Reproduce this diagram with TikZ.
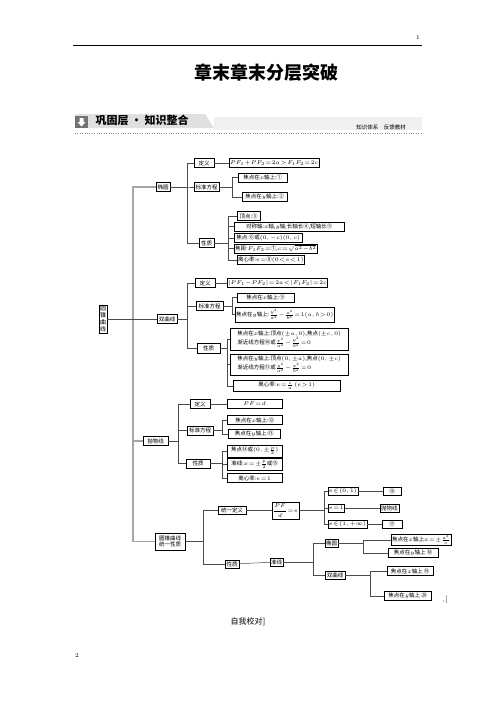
\RequirePackage{fix-cm}
\documentclass[tikz,border=0pt]{standalone}
\usepackage{amsmath}
\usepackage{fontspec}
\newfontfamily\cjk{Noto Sans CJK SC}
\DeclareMathSizes{5.5}{5.5}{4.5}{3.5}
\usetikzlibrary{calc}

\begin{document}
\begin{tikzpicture}[x=1pt,y=-1pt,
  box/.style={draw,anchor=west,inner sep=1pt,minimum height=9pt,align=center,
    font={\cjk\fontsize{5.5}{6.5}\selectfont\medmuskip=1mu\thickmuskip=1.5mu}},
  lbox/.style={box,align=left},
  bar/.style={line width=0.5pt,color=black!70},
  spine/.style={line width=1.4pt,color=black!35}]

\useasboundingbox (0,0) rectangle (496,702);

\node[font=\fontsize{6}{7}\selectfont] (pageone) at (418,38) {1};
\draw[line width=0.8pt] (73,45) -- (422,45);
\node[font=\cjk\bfseries\fontsize{18}{19}\selectfont] (title) at (266,73) {章末章末分层突破};

\fill[black!12] (75,114) -- (205,114) -- (214,128) -- (75,128) -- cycle;
\fill[black!6] (214,117) rectangle (422,130);
\fill[black!55] (75,116) rectangle (88,128);
\fill[white] (79.5,118) rectangle (83.5,122) (77.5,122) -- (85.5,122) -- (81.5,126.5) -- cycle;
\draw[black!45,dotted] (75,133) -- (422,133);
\node[font=\cjk\bfseries\fontsize{11}{12}\selectfont,anchor=west] (banner) at (92,120) {巩固层 · 知识整合};
\node[font=\cjk\fontsize{5.5}{6.5}\selectfont] (feedback) at (381,127) {知识体系\quad 反馈教材};

\node[box,minimum width=8pt,inner sep=0.8pt,font=\cjk\fontsize{6}{7.2}\selectfont] (root) at (99,319) {圆\\锥\\曲\\线};

\node[box,minimum width=14pt] (tuoyuan) at (156,187) {椭圆};
\node[box,minimum width=20pt] (e_def) at (194,163) {定义};
\node[box,minimum width=87pt] (e_defbox) at (229,163) {$PF_1+PF_2=2a>F_1F_2=2c$};
\node[box,minimum width=25pt] (e_std) at (194,187) {标准方程};
\node[lbox,minimum width=49pt] (e_x) at (238,177.5) {焦点在$x$轴上:①};
\node[lbox,minimum width=45pt] (e_y) at (242,197) {焦点在$y$轴上:②};
\node[box,minimum width=15pt] (e_prop) at (199,243) {性质};
\node[lbox,minimum width=23pt] (e_p1) at (237,216) {顶点:③};
\node[lbox,minimum width=110pt] (e_p2) at (234,226.5) {对称轴:$x$轴,$y$轴;长轴长④,短轴长⑤};
\node[lbox,minimum width=68pt] (e_p3) at (234,238) {焦点:⑥或$(0,-c)(0,c)$};
\node[lbox,minimum width=67pt] (e_p4) at (234,248.5) {焦距:$F_1F_2=$⑦,$c=\sqrt{a^2-b^2}$};
\node[lbox,minimum width=64pt] (e_p5) at (237,260) {离心率:$e=$⑧$(0<e<1)$};

\node[box,minimum width=20pt] (shuangqu) at (157,319) {双曲线};
\node[box,minimum width=20pt] (h_def) at (195,283) {定义};
\node[box,minimum width=89pt] (h_defbox) at (227,283) {$|PF_1-PF_2|=2a<|F_1F_2|=2c$};
\node[box,minimum width=27pt] (h_std) at (196,306) {标准方程};
\node[lbox,minimum width=57pt] (h_x) at (237,297.5) {焦点在$x$轴上:⑨};
\node[lbox,minimum width=95pt,minimum height=15pt] (h_y) at (235,314.5) {焦点在$y$轴上:$\frac{y^2}{a^2}-\frac{x^2}{b^2}=1(a,b>0)$};
\node[box,minimum width=23pt,minimum height=10pt] (h_prop) at (197,348) {性质};
\node[lbox,minimum width=118pt,minimum height=22pt] (h_p1) at (230,339) {焦点在$x$轴上:顶点$(\pm a,0)$,焦点$(\pm c,0)$\\渐近线方程⑩或$\frac{x^2}{a^2}-\frac{y^2}{b^2}=0$};
\node[lbox,minimum width=118pt,minimum height=21pt] (h_p2) at (230,364.5) {焦点在$y$轴上:顶点$(0,\pm a)$,焦点$(0,\pm c)$\\渐近线方程⑪或$\frac{y^2}{a^2}-\frac{x^2}{b^2}=0$};
\node[lbox,minimum width=107pt,minimum height=11pt] (h_p3) at (233,386) {离心率:$e=\frac{c}{a}$\ $(e>1)$};

\node[box,minimum width=25pt] (paowu) at (143,441) {抛物线};
\node[box,minimum width=20pt] (p_def) at (190,404) {定义};
\node[box,minimum width=55pt] (p_defbox) at (227,404) {$PF=d$};
\node[box,minimum width=26pt] (p_std) at (187,430.5) {标准方程};
\node[lbox,minimum width=55pt] (p_x) at (227,420) {焦点在$x$轴上:⑫};
\node[lbox,minimum width=52pt] (p_y) at (228,434) {焦点在$y$轴上:⑬};
\node[box,minimum width=24pt] (p_prop) at (186,463.5) {性质};
\node[lbox,minimum width=55pt,minimum height=12pt] (p_p1) at (227,451) {焦点⑭或$(0,\pm\frac{p}{2})$};
\node[lbox,minimum width=55pt,minimum height=12pt] (p_p2) at (227,464.5) {准线:$x=\pm\frac{p}{2}$或⑮};
\node[lbox,minimum width=55pt] (p_p3) at (227,478) {离心率:$e=1$};

\node[box,minimum width=30pt,minimum height=17pt] (tongyi) at (155,541.5) {圆锥曲线\\统一性质};
\node[box,minimum width=28pt,minimum height=8pt] (u_def) at (218,510.5) {统一定义};
\node[box,minimum width=20pt,minimum height=14pt] (u_e) at (272,510.5) {$\dfrac{PF}{d}=e$};
\node[box,minimum width=27pt,minimum height=8pt] (u_e1) at (328,491) {$e\in(0,1)$};
\node[box,minimum width=18pt,minimum height=8pt] (u_a1) at (383,491) {⑯};
\node[box,minimum width=11pt,minimum height=8pt] (u_e2) at (328,508) {$e=1$};
\node[box,minimum width=17pt,minimum height=8pt] (u_a2) at (380,508) {抛物线};
\node[box,minimum width=27pt,minimum height=8pt] (u_e3) at (328,524) {$e\in(1,+\infty)$};
\node[box,minimum width=20pt,minimum height=8pt] (u_a3) at (382,524) {⑰};
\node[box,minimum width=14pt,minimum height=8pt] (u_prop) at (225,564) {性质};
\node[box,minimum width=13pt,minimum height=8pt] (u_zx) at (270,562) {准线};
\node[box,minimum width=13pt,minimum height=8pt] (u_ty) at (325,543.5) {椭圆};
\node[box,minimum width=20pt,minimum height=8pt] (u_sq) at (325,575.5) {双曲线};
\node[lbox,minimum width=49pt,minimum height=10pt] (u_t1) at (391,540) {焦点在$x$轴上$x=\pm\frac{a^2}{c}$};
\node[lbox,minimum width=50pt] (u_t2) at (388,553) {焦点在$y$轴上\ ⑱};
\node[lbox,minimum width=46pt] (u_s1) at (387,571) {焦点在$x$轴上\ ⑲};
\node[lbox,minimum width=47pt] (u_s2) at (384,596) {焦点在$y$轴上\ ⑳};

\node[font=\fontsize{7}{8}\selectfont] (mark) at (445,600) {,[};
\node[font=\cjk\fontsize{8}{9}\selectfont] (check) at (248,622) {自我校对]};
\node[font=\fontsize{6}{7}\selectfont] (pagetwo) at (77,655) {2};

\draw[spine] (tuoyuan.west) -- ++(-23,0) |- (tongyi.west);
\draw[spine] (paowu.west) -- ++(-10,0);
\draw[bar] (root.east) -- (shuangqu.west);

\foreach \c in {e_def,e_std,e_prop} \draw[bar] (tuoyuan.east) -- ++(17,0) |- (\c.west);
\draw[bar] (e_def) -- (e_defbox);
\foreach \c in {e_x,e_y} \draw[bar] (e_std.east) -- ++(13,0) |- (\c.west);
\foreach \c in {e_p1,e_p2,e_p3,e_p4,e_p5} \draw[bar] (e_prop.east) -- ++(14,0) |- (\c.west);

\foreach \c in {h_def,h_std,h_prop} \draw[bar] (shuangqu.east) -- ++(10,0) |- (\c.west);
\draw[bar] (h_def) -- (h_defbox);
\foreach \c in {h_x,h_y} \draw[bar] (h_std.east) -- ++(9,0) |- (\c.west);
\foreach \c in {h_p1,h_p2,h_p3} \draw[bar] (h_prop.east) -- ++(7,0) |- (\c.west);

\foreach \c in {p_def,p_std,p_prop} \draw[bar] (paowu.east) -- ++(10,0) |- (\c.west);
\draw[bar] (p_def) -- (p_defbox);
\foreach \c in {p_x,p_y} \draw[bar] (p_std.east) -- ++(9,0) |- (\c.west);
\foreach \c in {p_p1,p_p2,p_p3} \draw[bar] (p_prop.east) -- ++(12,0) |- (\c.west);

\foreach \c in {u_def,u_prop} \draw[bar] (tongyi.east) -- ++(18,0) |- (\c.west);
\draw[bar] (u_def) -- (u_e);
\foreach \c in {u_e1,u_e2,u_e3} \draw[bar] (u_e.east) -- ++(25,0) |- (\c.west);
\draw[bar] (u_e1) -- (u_a1);
\draw[bar] (u_e2) -- (u_a2);
\draw[bar] (u_e3) -- (u_a3);
\draw[bar] (u_prop) -- (u_zx);
\foreach \c in {u_ty,u_sq} \draw[bar] (u_zx.east) -- ++(30,0) |- (\c.west);
\foreach \c in {u_t1,u_t2} \draw[bar] (u_ty.east) -- ++(25,0) |- (\c.west);
\foreach \c in {u_s1,u_s2} \draw[bar] (u_sq.east) -- ++(25,0) |- (\c.west);

\end{tikzpicture}
\end{document}
